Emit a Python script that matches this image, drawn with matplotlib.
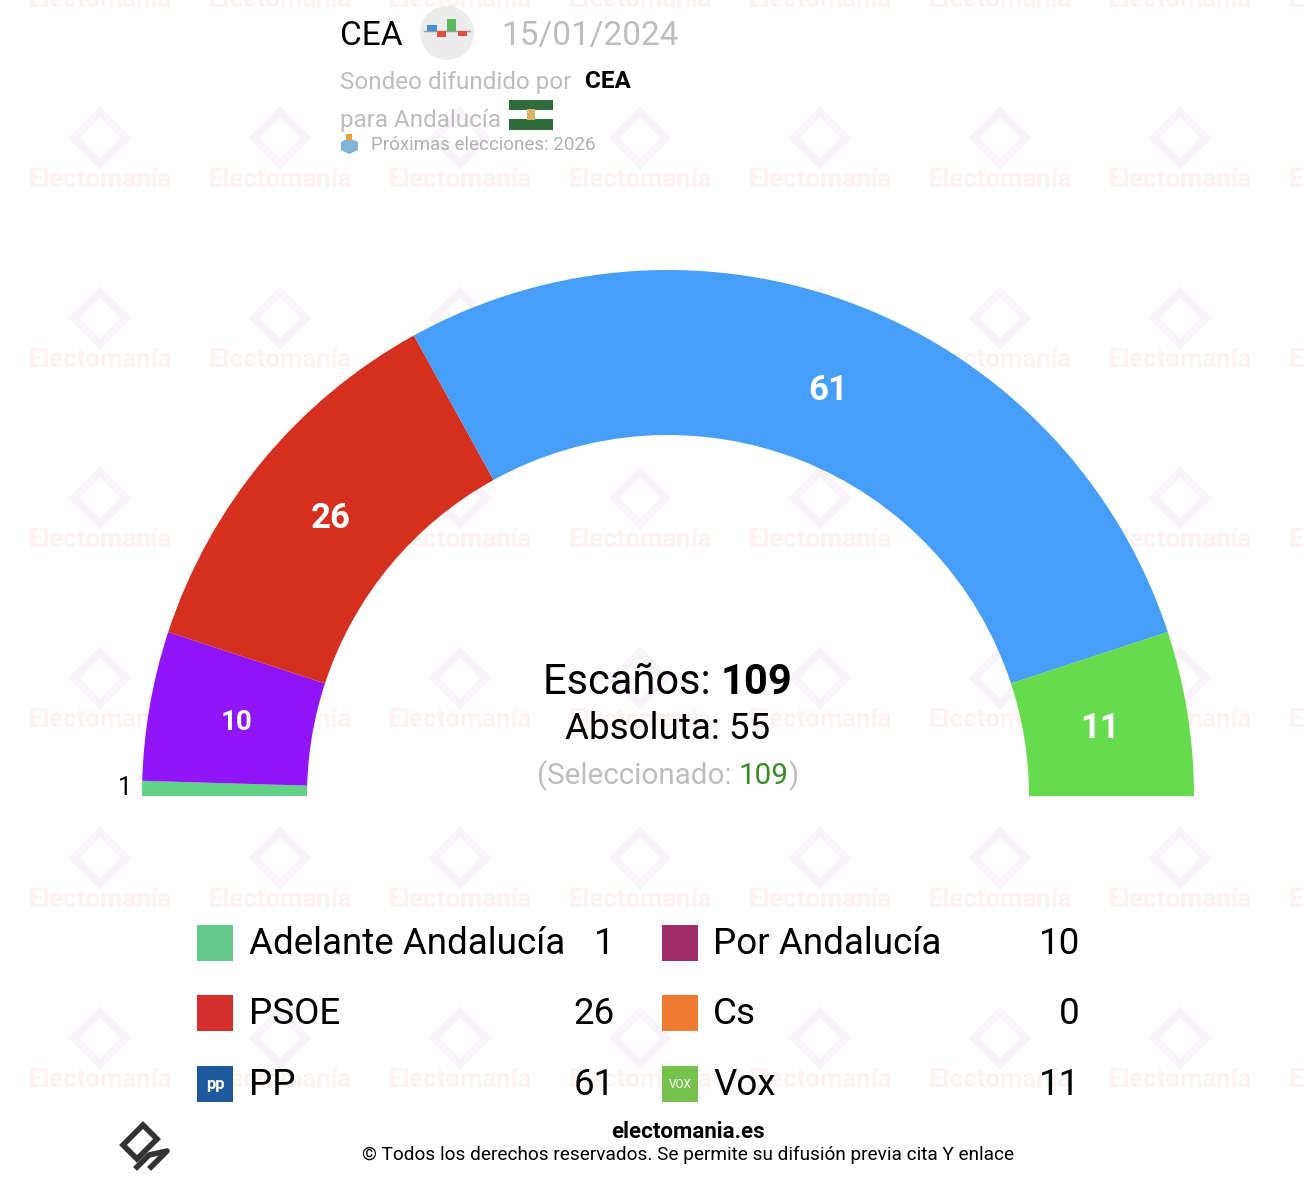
import matplotlib
matplotlib.use("Agg")
import matplotlib.pyplot as plt
from matplotlib.patches import Wedge, Rectangle, Circle, Polygon
import numpy as np

# ---------------- data ----------------
parties = ["Adelante Andalucía", "Por Andalucía", "PSOE", "PP", "Cs", "Vox"]
seats = [1, 10, 26, 61, 0, 11]
arc_colors = ["#62d386", "#9016f7", "#d52f20", "#469ef7", "#ef7a32", "#66db4d"]
icon_colors = ["#62c98a", "#a22c68", "#d42f2a", "#205a9e", "#ef7a32", "#77c14d"]
legend_left = ["Adelante Andalucía", "PSOE", "PP"]
legend_right = ["Por Andalucía", "Cs", "Vox"]
total_seats = 109
majority = 55
pollster = "CEA"
poll_date = "15/01/2024"
region = "Andalucía"
next_election = "2026"

W, H = 1304, 1178
FONT = ["Roboto", "DejaVu Sans"]
plt.rcParams["font.family"] = FONT

fig = plt.figure(figsize=(W / 100, H / 100), dpi=100)
ax = fig.add_axes([0, 0, 1, 1])
ax.set_xlim(0, W)
ax.set_ylim(H, 0)
ax.axis("off")
renderer = fig.canvas.get_renderer()

# ---------------- watermark ----------------
for gx in range(100, 1400, 180):
    for gy in range(0, 1180, 180):
        ax.text(gx, gy, "Electomanía", ha="center", va="center", fontsize=18.5,
                fontweight="bold", color="#fcf2f1", zorder=0)
        cy_ = gy - 42
        d = 26
        ax.add_patch(Polygon([[gx, cy_ - d], [gx + d, cy_], [gx, cy_ + d], [gx - d, cy_]],
                             closed=True, fill=False, lw=6, ec="#f8f3f8", zorder=0))

# ---------------- hemicycle ----------------
cx, cy = 668, 796
R_out, R_in = 526, 361
cum = np.concatenate([[0], np.cumsum(seats)])
for i, (p, s) in enumerate(zip(parties, seats)):
    if s == 0:
        continue
    t1 = 180 + cum[i] / total_seats * 180
    t2 = 180 + cum[i + 1] / total_seats * 180
    ax.add_patch(Wedge((cx, cy), R_out, t1, t2, width=R_out - R_in,
                       fc=arc_colors[i], ec="none", zorder=2))
    tm = np.deg2rad((t1 + t2) / 2)
    if s >= 3:
        rl = 438
        fs = 25 if s > 10 else 20
        ax.text(cx + rl * np.cos(tm), cy + rl * np.sin(tm) + 2, str(s), ha="center",
                va="center", color="white", fontsize=fs, fontweight="bold", zorder=3)
    else:
        ax.text(cx - R_out - 10, cy + (R_out + 10) * np.sin(tm), str(s), ha="right",
                va="center", color="black", fontsize=18, zorder=3)


def rich_line(parts, xc, y, fontsize):
    """parts: list of (text, color, weight)"""
    objs = []
    widths = []
    for t, c, w in parts:
        o = ax.text(0, y, t, ha="left", va="center", color=c, fontweight=w,
                    fontsize=fontsize, zorder=5)
        objs.append(o)
        widths.append(o.get_window_extent(renderer).width)
    x = xc - sum(widths) / 2
    for o, wd in zip(objs, widths):
        o.set_x(x)
        x += wd


rich_line([("Escaños: ", "black", "normal"), (str(total_seats), "black", "bold")], 668, 682, 30)
rich_line([("Absoluta: " + str(majority), "black", "normal")], 668, 729, 26.5)
rich_line([("(Seleccionado: ", "#bdbdbd", "normal"), (str(sum(seats)), "#3a8a2a", "normal"),
           (")", "#bdbdbd", "normal")], 668, 776, 21.3)

# ---------------- legend ----------------
row_y = [943, 1013, 1084]
cols = [(legend_left, 197, 249, 615), (legend_right, 662, 713, 1080)]
for names, ix, tx, vx in cols:
    for name, y in zip(names, row_y):
        i = parties.index(name)
        ax.add_patch(Rectangle((ix, y - 18), 36, 36, fc=icon_colors[i], ec="none", zorder=3))
        if name == "Vox":
            ax.text(ix + 18, y, "VOX", color="white", fontsize=8.5, ha="center", va="center", zorder=4)
        elif name == "PP":
            ax.text(ix + 18, y + 1, "pp", color="white", fontsize=12, fontweight="bold",
                    ha="center", va="center", zorder=4)
        ax.text(tx, y + 1, name, fontsize=26.5, ha="left", va="center", color="black", zorder=4)
        ax.text(vx, y + 1, str(seats[i]), fontsize=26.5, ha="right", va="center", color="black", zorder=4)

# ---------------- header ----------------
ax.text(340, 36, pollster, fontsize=24, ha="left", va="center", color="black", zorder=5)
ax.add_patch(Circle((447, 33), 27, fc="#ececec", ec="none", zorder=4))
ax.plot([424, 470], [31, 31], color="#9a9a9a", lw=1, zorder=5)
for (x0, x1, y0, y1, c) in [(427, 437, 25, 31, "#4a90d9"), (437, 446, 31, 37, "#e0503c"),
                            (447, 456, 19, 31, "#5cb85c"), (458, 467, 31, 36, "#e0503c")]:
    ax.add_patch(Rectangle((x0, y0), x1 - x0, y1 - y0, fc=c, ec="none", zorder=5))
ax.text(501, 36, poll_date, fontsize=24, ha="left", va="center", color="#bdbdbd", zorder=5)
ax.text(340, 82, "Sondeo difundido por", fontsize=17.5, ha="left", va="center", color="#bdbdbd", zorder=5)
ax.text(585, 82, pollster, fontsize=17.5, ha="left", va="center", color="black",
        fontweight="bold", zorder=5)
ax.text(340, 120, "para " + region, fontsize=17.5, ha="left", va="center", color="#bdbdbd", zorder=5)
ax.add_patch(Rectangle((509, 100), 44, 10, fc="#2f6b3b", ec="none", zorder=5))
ax.add_patch(Rectangle((509, 110), 44, 9, fc="white", ec="none", zorder=5))
ax.add_patch(Rectangle((509, 119), 44, 11, fc="#2f6b3b", ec="none", zorder=5))
ax.add_patch(Rectangle((527, 109), 8, 11, fc="#d9b36a", ec="none", zorder=6))
# ballot box
ax.add_patch(Polygon([[341, 142], [349, 138], [358, 142], [358, 150], [349, 154], [341, 150]],
                     closed=True, fc="#7fb4d6", ec="none", zorder=5))
ax.add_patch(Rectangle((346, 134), 6, 6, fc="#f0a030", ec="none", zorder=6))
ax.text(371, 145, "Próximas elecciones: " + next_election, fontsize=13.5, ha="left",
        va="center", color="#b0b0b0", zorder=5)

# ---------------- footer ----------------
lx, ly = 145, 1147
ax.add_patch(Polygon([[lx - 22, ly - 2], [lx - 2, ly - 22], [lx + 12, ly - 8], [lx - 8, ly + 12]],
                     closed=True, fill=False, ec="#333333", lw=4, zorder=5))
ax.plot([lx - 8, lx + 4, lx + 22, lx + 6], [ly + 20, ly + 8, ly + 4, ly + 20],
        color="#333333", lw=4, zorder=5)
ax.text(688, 1132, "electomania.es", fontsize=16, fontweight="bold", ha="center",
        va="center", color="black", zorder=5)
ax.text(688, 1155, "© Todos los derechos reservados. Se permite su difusión previa cita Y enlace",
        fontsize=13.7, ha="center", va="center", color="black", zorder=5)

fig.savefig("out.png", dpi=100, facecolor="white")
